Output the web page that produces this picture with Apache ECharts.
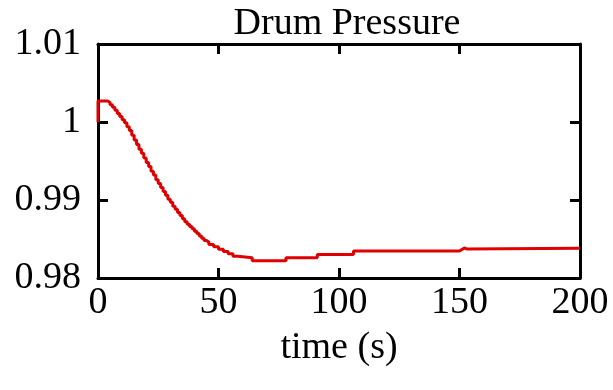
<!DOCTYPE html>
<html>
<head>
<meta charset="utf-8">
<script src="https://cdn.jsdelivr.net/npm/echarts@6/dist/echarts.min.js"></script>
<style>
  html, body { margin: 0; padding: 0; background: #fff; }
  #chart { width: 613px; height: 390px; }
</style>
</head>
<body>
<div id="chart"></div>
<script>
// Drum pressure response (stepped trace)

const times = [0, 0, 4, 5, 6, 7, 8, 9, 10, 11, 12, 13, 14, 15, 16, 17, 18, 19, 20, 21, 22, 23,
  24, 25, 26, 27, 28, 29, 30, 31, 32, 33, 34, 35, 36, 37, 38, 39, 40, 41, 42, 43, 44, 45,
  46, 48, 50, 52, 54, 56, 58, 64, 78, 91, 106, 150, 151, 152, 153, 200]
const pressure = [1.0, 1.0027, 1.0025, 1.0022, 1.0019, 1.0015, 1.0011, 1.0007, 1.0003,
  0.9999, 0.9994, 0.9989, 0.9983, 0.9977, 0.9971, 0.9965, 0.996, 0.9954, 0.9948, 0.9943,
  0.9937, 0.9932, 0.9926, 0.9921, 0.9916, 0.9911, 0.9906, 0.9901, 0.9897, 0.9892, 0.9888,
  0.9884, 0.988, 0.9876, 0.9872, 0.9869, 0.9866, 0.9863, 0.986, 0.9857, 0.9854, 0.9851,
  0.9848, 0.9846, 0.9843, 0.984, 0.9837, 0.9834, 0.9831, 0.9828, 0.9826, 0.9822, 0.9826,
  0.983, 0.98345, 0.98365, 0.98385, 0.98372, 0.9838, 0.9838]

const xTicks = { min: 0, max: 200, interval: 50 }
const yTicks = { min: 0.98, max: 1.01, interval: 0.01 }

const font = 'Liberation Serif'
const ink = '#000'

const chart = echarts.init(document.getElementById('chart'))

function axisBase(extra) {
  return Object.assign({
    type: 'value',
    axisLine: { show: true, onZero: false, lineStyle: { color: ink, width: 3 } },
    axisTick: { show: true, inside: true, length: 10, lineStyle: { color: ink, width: 3 } },
    splitLine: { show: false },
  }, extra)
}

const fmt = (v) => String(parseFloat(v.toFixed(2)))

chart.setOption({
  animation: false,
  backgroundColor: '#fff',
  title: {
    text: 'Drum Pressure',
    left: 342,
    textAlign: 'center',
    top: 0,
    textStyle: { fontFamily: font, fontSize: 38, fontWeight: 'normal', color: ink },
  },
  grid: { left: 98, right: 33, top: 44, bottom: 112 },
  xAxis: [
    axisBase({
      ...xTicks,
      position: 'bottom',
      name: 'time (s)',
      nameLocation: 'middle',
      nameGap: 51,
      nameTextStyle: { fontFamily: font, fontSize: 38, color: ink },
      axisLabel: { fontFamily: font, fontSize: 38, color: ink, margin: 6 },
    }),
    axisBase({ ...xTicks, position: 'top', axisLabel: { show: false } }),
  ],
  yAxis: [
    axisBase({
      ...yTicks,
      position: 'left',
      axisLabel: { fontFamily: font, fontSize: 38, color: ink, margin: 17, formatter: fmt },
    }),
    axisBase({ ...yTicks, position: 'right', axisLabel: { show: false } }),
  ],
  series: [{
    type: 'line',
    step: 'end',
    showSymbol: false,
    data: times.map((t, i) => [t, pressure[i]]),
    lineStyle: { color: '#e00000', width: 3 },
    itemStyle: { color: '#e00000' },
  }],
})
</script>
</body>
</html>
